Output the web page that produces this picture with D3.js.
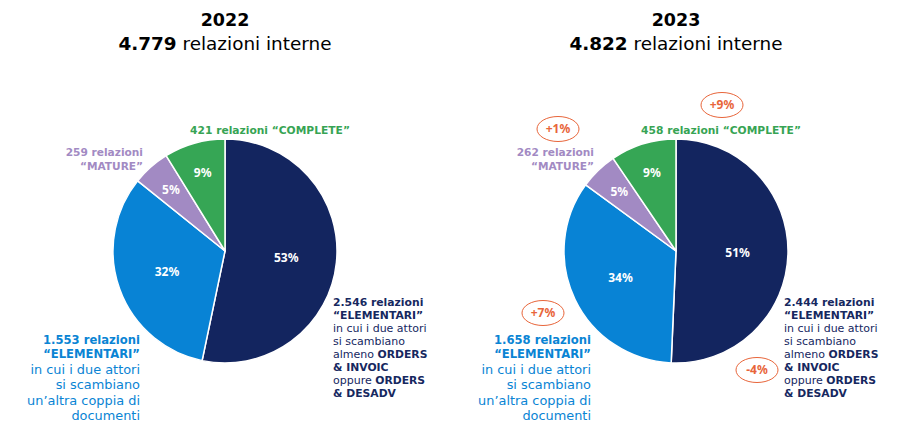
<!DOCTYPE html>
<html><head><meta charset="utf-8">
<script src="https://cdn.jsdelivr.net/npm/d3@7"></script>
<style>
html,body{margin:0;padding:0;background:#fff;}
svg{display:block;font-family:"DejaVu Sans",sans-serif;}
</style></head>
<body><svg id="chart" width="908" height="444"></svg>
<script>
// ---- data ----
const years = ["2022", "2023"];
const categories = ["ELEMENTARI_ORDERS", "ELEMENTARI_ALTRO", "MATURE", "COMPLETE"];
const values2022 = [2546, 1553, 259, 421];
const values2023 = [2444, 1658, 262, 458];
const colors = ["#13255f", "#0883d5", "#a28ac3", "#36a655"];
const textColors = ["#16285f", "#0a84d4", "#a28ac3", "#37a454"];
const badgeColor = "#e8653a";

const locale = d3.formatLocale({decimal: ",", thousands: ".", grouping: [3], currency: ["€", ""]});
const fmtInt = locale.format(",d");

const svg = d3.select("#chart");
const R = 112;
const panels = [
  {year: years[0], values: values2022, cx: 225, cy: 251, prev: null},
  {year: years[1], values: values2023, cx: 676, cy: 251, prev: values2022}
];

const pie = d3.pie().sort(null).value(d => d).startAngle(0).endAngle(2 * Math.PI);
const arc = d3.arc().innerRadius(0).outerRadius(R);

panels.forEach(p => {
  const g = svg.append("g").attr("transform", `translate(${p.cx},${p.cy})`);
  const total = d3.sum(p.values);

  // titles
  svg.append("text").attr("x", p.cx).attr("y", 26).attr("text-anchor", "middle")
    .attr("font-size", 17.5).attr("font-weight", 700).attr("fill", "#000").text(p.year);
  const t2 = svg.append("text").attr("x", p.cx).attr("y", 50).attr("text-anchor", "middle")
    .attr("font-size", 18.4).attr("fill", "#000");
  t2.append("tspan").attr("font-weight", 700).text(fmtInt(total));
  t2.append("tspan").attr("font-weight", 400).text(" relazioni interne");

  // slices
  const arcs = pie(p.values);
  g.selectAll("path.slice").data(arcs).enter().append("path")
    .attr("class", "slice")
    .attr("d", arc)
    .attr("fill", (d, i) => colors[i])
    .attr("stroke", "#fff").attr("stroke-width", 1.5).attr("stroke-linejoin", "round");

  // percentage labels
  g.selectAll("text.pct").data(arcs).enter().append("text")
    .attr("class", "pct")
    .attr("transform", d => {
      const frac = (d.endAngle - d.startAngle) / (2 * Math.PI);
      const rr = frac > 0.2 ? R * 0.55 : R * 0.73;
      const c = d3.arc().innerRadius(rr).outerRadius(rr).centroid(d);
      return `translate(${c[0]},${c[1]})`;
    })
    .attr("text-anchor", "middle").attr("dy", "0.35em")
    .attr("font-family", "'Noto Sans', sans-serif")
    .attr("font-size", 12).attr("font-weight", 700).attr("fill", "#fff")
    .text(d => Math.round(d.value / total * 100) + "%");

  // category annotations
  const v = p.values;
  // COMPLETE (green)
  const tc = g.append("text").attr("x", 45).attr("y", -117).attr("text-anchor", "middle")
    .attr("font-size", 10.7).attr("font-weight", 700).attr("fill", textColors[3]);
  tc.append("tspan").text(fmtInt(v[3]));
  tc.append("tspan").text(" relazioni \u201CCOMPLETE\u201D");

  // MATURE (purple)
  const tm = g.append("text").attr("text-anchor", "end").attr("font-weight", 700)
    .attr("fill", textColors[2]).attr("font-size", 10.6);
  tm.append("tspan").attr("x", -82).attr("y", -95).text(fmtInt(v[2]) + " relazioni");
  tm.append("tspan").attr("x", -82).attr("y", -81).text("\u201CMATURE\u201D");

  // ELEMENTARI blue (left bottom)
  const blueLines = [
    [{t: fmtInt(v[1]) + " relazioni", b: true}],
    [{t: "\u201CELEMENTARI\u201D", b: true}],
    [{t: "in cui i due attori", b: false}],
    [{t: "si scambiano", b: false}],
    [{t: "un\u2019altra coppia di", b: false}],
    [{t: "documenti", b: false}]
  ];
  const blueY = [93, 107, 123, 138.3, 153.6, 169];
  const tb = g.append("text").attr("text-anchor", "end").attr("fill", textColors[1]);
  blueLines.forEach((line, i) => {
    line.forEach((seg, j) => {
      const ts = tb.append("tspan").text(seg.t)
        .attr("font-weight", seg.b ? 700 : 400)
        .attr("font-size", seg.b ? 11.6 : 12.9);
      if (j === 0) ts.attr("x", -85).attr("y", blueY[i]);
    });
  });

  // ELEMENTARI navy (right)
  const navyLines = [
    [{t: fmtInt(v[0]) + " relazioni", b: true}],
    [{t: "\u201CELEMENTARI\u201D", b: true}],
    [{t: "in cui i due attori", b: false}],
    [{t: "si scambiano", b: false}],
    [{t: "almeno ", b: false}, {t: "ORDERS", b: true}],
    [{t: "& INVOIC", b: true}],
    [{t: "oppure ", b: false}, {t: "ORDERS", b: true}],
    [{t: "& DESADV", b: true}]
  ];
  const tn = g.append("text").attr("text-anchor", "start").attr("fill", textColors[0]);
  navyLines.forEach((line, i) => {
    line.forEach((seg, j) => {
      const ts = tn.append("tspan").text(seg.t)
        .attr("font-weight", seg.b ? 700 : 400)
        .attr("font-size", seg.b ? 10.8 : 11);
      if (j === 0) ts.attr("x", 108).attr("y", 55 + i * 12.95);
    });
  });

  // variation badges
  if (p.prev) {
    const badgePos = [[81, 119], [-133, 62], [-118, -122], [46, -146]];
    p.values.forEach((val, i) => {
      const ch = Math.round((val / p.prev[i] - 1) * 100);
      const txt = (ch > 0 ? "+" : "") + ch + "%";
      const bg = g.append("g").attr("transform", `translate(${badgePos[i][0]},${badgePos[i][1]})`);
      bg.append("ellipse").attr("rx", 21).attr("ry", 12.5)
        .attr("fill", "none").attr("stroke", badgeColor).attr("stroke-width", 1);
      bg.append("text").attr("text-anchor", "middle").attr("dy", "0.36em")
        .attr("font-family", "'Noto Sans', sans-serif")
        .attr("font-size", 12).attr("font-weight", 700).attr("fill", badgeColor).text(txt);
    });
  }
});
</script></body></html>
